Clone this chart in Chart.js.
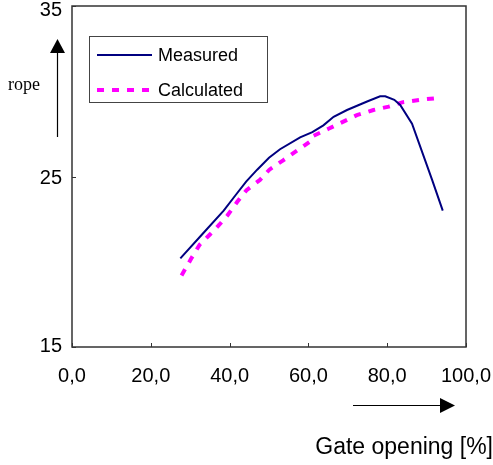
<!DOCTYPE html>
<html>
<head>
<meta charset="utf-8">
<script src="https://cdn.jsdelivr.net/npm/chart.js@4/dist/chart.umd.min.js"></script>
<style>
  html, body { margin: 0; padding: 0; background: #fff; }
  canvas { display: block; }
</style>
</head>
<body>
<canvas id="chart" width="493" height="465"></canvas>
<script>
// Chart data
const measuredX = [27.5, 33, 38.5, 41.5, 44.2, 47, 50, 52.8, 57.9, 61, 63.8, 66.4, 69.8, 74.9, 78.2, 79.5, 81.8, 83.3, 86.3, 91.4, 94.1];
const measuredY = [20.2, 21.6, 23.0, 23.9, 24.7, 25.4, 26.1, 26.6, 27.3, 27.6, 28.0, 28.5, 28.9, 29.4, 29.7, 29.7, 29.5, 29.2, 28.1, 24.8, 23.0];
const calculatedX = [27.8, 30.3, 32.4, 35, 37.1, 39.4, 41.9, 44.3, 47.7, 50.1, 53.6, 57, 60.4, 61, 65.1, 72.3, 76.5, 80.4, 83.8, 88.4, 92.7];
const calculatedY = [19.2, 20.2, 21.0, 21.6, 22.1, 22.7, 23.5, 24.2, 24.8, 25.4, 25.95, 26.5, 27.05, 27.35, 27.8, 28.6, 28.9, 29.1, 29.35, 29.5, 29.6];
const seriesNames = ['Measured', 'Calculated'];
const xTicks = [0, 20, 40, 60, 80, 100];
const yTicks = [15, 25, 35];

const SANS = '"Liberation Sans", Arial, sans-serif';
const SERIF = '"Liberation Serif", "Times New Roman", serif';
const AXIS = '#333';

const toPoints = (xs, ys) => xs.map((x, i) => ({ x: x, y: ys[i] }));

// Frame, inner ticks, y labels, legend, arrows and axis text
const decorations = {
    id: 'decorations',
    afterDraw(chart) {
        const ctx = chart.ctx;
        const a = chart.chartArea;
        const xs = chart.scales.x;
        const ys = chart.scales.y;
        ctx.save();

        // plot frame
        ctx.strokeStyle = AXIS;
        ctx.lineWidth = 1.5;
        ctx.strokeRect(a.left, a.top, a.right - a.left, a.bottom - a.top);

        // tick marks pointing inwards
        ctx.lineWidth = 1;
        ctx.beginPath();
        xTicks.forEach(v => {
            const px = Math.round(xs.getPixelForValue(v)) + 0.5;
            ctx.moveTo(px, a.bottom);
            ctx.lineTo(px, a.bottom - 4);
        });
        yTicks.forEach(v => {
            const py = Math.round(ys.getPixelForValue(v)) + 0.5;
            ctx.moveTo(a.left, py);
            ctx.lineTo(a.left + 4, py);
        });
        ctx.stroke();

        // y tick labels, kept inside the canvas like the original
        ctx.fillStyle = '#000';
        ctx.font = '20px ' + SANS;
        ctx.textAlign = 'right';
        ctx.textBaseline = 'middle';
        yTicks.forEach(v => {
            const py = Math.min(Math.max(ys.getPixelForValue(v) + 2, 10), 346);
            ctx.fillText(String(v), 62, py);
        });

        // legend box
        ctx.fillStyle = '#fff';
        ctx.fillRect(89.5, 36.5, 178, 66);
        ctx.strokeStyle = '#444';
        ctx.lineWidth = 1;
        ctx.strokeRect(89.5, 36.5, 178, 66);
        const rows = [55, 90];
        chart.data.datasets.forEach((ds, i) => {
            ctx.strokeStyle = ds.borderColor;
            ctx.lineWidth = ds.borderWidth;
            ctx.setLineDash(ds.borderDash || []);
            ctx.beginPath();
            ctx.moveTo(97, rows[i]);
            ctx.lineTo(152, rows[i]);
            ctx.stroke();
            ctx.setLineDash([]);
            ctx.fillStyle = '#000';
            ctx.font = '18px ' + SANS;
            ctx.textAlign = 'left';
            ctx.textBaseline = 'middle';
            ctx.fillText(ds.label, 158, rows[i] + 1);
        });

        // y direction arrow and label
        ctx.strokeStyle = '#000';
        ctx.fillStyle = '#000';
        ctx.lineWidth = 1.2;
        ctx.beginPath();
        ctx.moveTo(57.5, 137);
        ctx.lineTo(57.5, 52);
        ctx.stroke();
        ctx.beginPath();
        ctx.moveTo(57.5, 39);
        ctx.lineTo(50, 53);
        ctx.lineTo(65, 53);
        ctx.closePath();
        ctx.fill();
        ctx.font = '18px ' + SERIF;
        ctx.textAlign = 'left';
        ctx.textBaseline = 'alphabetic';
        ctx.fillText('rope', 8, 90);

        // x direction arrow and label
        ctx.beginPath();
        ctx.moveTo(353, 405.5);
        ctx.lineTo(441, 405.5);
        ctx.stroke();
        ctx.beginPath();
        ctx.moveTo(455, 405.5);
        ctx.lineTo(440, 398);
        ctx.lineTo(440, 413);
        ctx.closePath();
        ctx.fill();
        ctx.font = '23px ' + SANS;
        ctx.textAlign = 'right';
        ctx.fillText('Gate opening [%]', 493, 454);

        ctx.restore();
    }
};

const noPad = scale => {
    scale.paddingLeft = 0;
    scale.paddingRight = 0;
    scale.paddingTop = 0;
    scale.paddingBottom = 0;
};

new Chart(document.getElementById('chart'), {
    type: 'scatter',
    data: {
        datasets: [{
            label: seriesNames[0],
            data: toPoints(measuredX, measuredY),
            showLine: true,
            borderColor: '#000080',
            borderWidth: 2,
            pointRadius: 0,
            tension: 0
        }, {
            label: seriesNames[1],
            data: toPoints(calculatedX, calculatedY),
            showLine: true,
            borderColor: '#ff00ff',
            borderWidth: 4,
            borderDash: [7, 8],
            pointRadius: 0,
            tension: 0
        }]
    },
    options: {
        responsive: false,
        animation: false,
        devicePixelRatio: 1,
        layout: { padding: { top: 6, right: 27, bottom: 0, left: 0 } },
        plugins: {
            legend: { display: false },
            tooltip: { enabled: false }
        },
        scales: {
            x: {
                type: 'linear',
                min: 0,
                max: 100,
                afterBuildTicks: s => { s.ticks = xTicks.map(v => ({ value: v })); },
                afterFit: s => { s.height = 118; noPad(s); },
                grid: { display: false, drawTicks: false },
                border: { display: false },
                ticks: {
                    padding: 17,
                    color: '#000',
                    font: { family: SANS, size: 20 },
                    maxRotation: 0,
                    autoSkip: false,
                    callback: v => v.toFixed(1).replace('.', ',')
                }
            },
            y: {
                type: 'linear',
                min: 15,
                max: 35,
                afterBuildTicks: s => { s.ticks = yTicks.map(v => ({ value: v })); },
                afterFit: s => { s.width = 72; noPad(s); },
                grid: { display: false, drawTicks: false },
                border: { display: false },
                ticks: { display: false }
            }
        }
    },
    plugins: [decorations]
});
</script>
</body>
</html>
